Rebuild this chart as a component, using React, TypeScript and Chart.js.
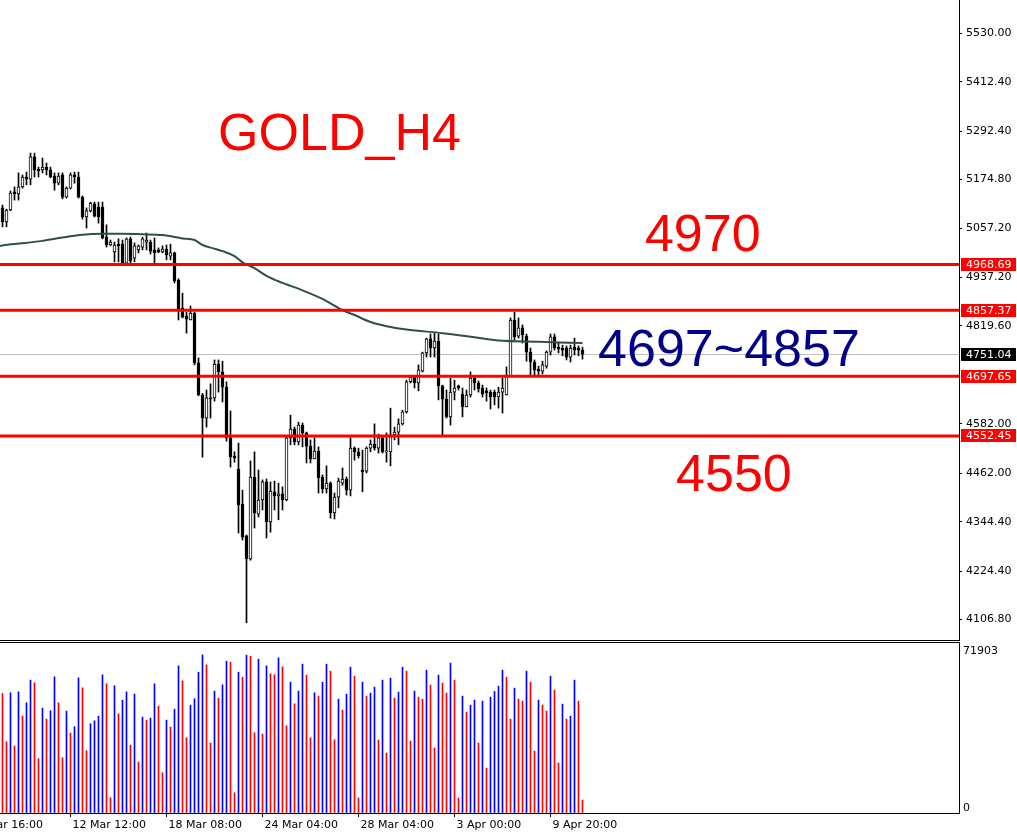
import React, { useEffect, useRef } from "react";
import { Chart, registerables } from "chart.js";
Chart.register(...registerables);

// ---------- data ----------
const OPEN = [5106,5072,5101,5145,5140,5157,5181,5176,5230,5200,5198,5205,5198,5183,5166,5186,5132,5154,5186,5181,5132,5084,5099,5116,5108,5108,5035,5016,4999,5018,5018,4972,5031,4984,5004,5011,5023,5023,5004,5004,4999,5006,4989,4997,4931,4863,4844,4834,4851,4730,4652,4596,4645,4645,4727,4708,4671,4548,4504,4472,4387,4310,4254,4453,4363,4397,4441,4344,4417,4407,4412,4397,4548,4569,4538,4579,4560,4528,4497,4516,4453,4424,4438,4366,4404,4438,4448,4421,4523,4514,4470,4467,4523,4533,4523,4548,4514,4514,4555,4562,4582,4611,4684,4696,4681,4710,4754,4788,4766,4783,4674,4642,4599,4659,4674,4654,4623,4652,4693,4681,4669,4662,4659,4659,4647,4659,4652,4698,4834,4795,4815,4795,4756,4732,4715,4710,4722,4756,4793,4768,4766,4766,4744,4768,4766,4761];
const HIGH = [5113,5103,5147,5157,5191,5186,5193,5239,5239,5205,5227,5215,5205,5191,5191,5191,5157,5191,5193,5193,5135,5106,5120,5120,5120,5120,5065,5028,5023,5031,5028,5033,5035,5021,5016,5035,5045,5028,5033,5009,5014,5016,5018,4999,4934,4899,4853,4868,4853,4742,4656,4664,4679,4737,4737,4734,4684,4613,4514,4535,4421,4312,4492,4514,4470,4446,4448,4441,4443,4438,4429,4550,4603,4574,4586,4584,4562,4543,4548,4526,4458,4480,4441,4414,4450,4475,4453,4548,4526,4523,4518,4526,4543,4582,4557,4550,4560,4620,4574,4594,4615,4688,4700,4700,4725,4756,4790,4800,4802,4800,4676,4664,4693,4688,4676,4669,4664,4708,4698,4686,4676,4669,4664,4664,4671,4693,4720,4839,4853,4839,4822,4800,4766,4737,4722,4734,4759,4800,4800,4778,4773,4771,4773,4790,4771,4768];
const LOW = [5060,5060,5099,5125,5125,5154,5162,5162,5181,5181,5191,5186,5179,5149,5162,5128,5130,5152,5166,5130,5079,5057,5096,5084,5069,5031,5011,5014,4975,4975,4970,4970,4972,4975,4997,5004,5004,4994,4972,4997,4997,4980,4980,4924,4834,4839,4802,4834,4725,4650,4501,4574,4596,4637,4659,4635,4540,4477,4489,4317,4300,4099,4251,4329,4356,4373,4305,4319,4373,4349,4373,4395,4531,4531,4531,4526,4487,4487,4497,4414,4414,4414,4353,4351,4378,4433,4409,4407,4494,4499,4417,4463,4514,4518,4511,4511,4489,4480,4543,4531,4579,4608,4681,4669,4662,4708,4744,4744,4744,4640,4555,4596,4579,4640,4664,4599,4623,4647,4664,4659,4647,4637,4618,4628,4620,4608,4652,4696,4785,4790,4778,4734,4700,4700,4700,4703,4717,4749,4761,4754,4747,4737,4732,4749,4747,4739];
const CLOSE = [5072,5101,5142,5140,5157,5181,5176,5230,5198,5196,5205,5198,5181,5166,5183,5132,5154,5186,5181,5132,5084,5099,5118,5086,5084,5033,5016,5023,5016,5014,4972,5031,4977,5014,5014,5031,5028,5001,4997,4999,5006,4992,4997,4929,4861,4841,4836,4851,4730,4652,4596,4645,4642,4727,4708,4671,4548,4502,4499,4385,4307,4254,4453,4366,4397,4441,4344,4419,4407,4412,4397,4548,4569,4538,4579,4560,4528,4497,4516,4451,4424,4438,4366,4404,4443,4448,4421,4523,4514,4504,4466,4523,4533,4523,4548,4514,4516,4555,4562,4582,4611,4684,4696,4681,4713,4754,4788,4766,4783,4674,4642,4599,4659,4669,4669,4623,4652,4693,4681,4667,4654,4657,4647,4647,4659,4669,4698,4834,4793,4815,4798,4756,4732,4713,4710,4725,4756,4793,4766,4764,4761,4744,4766,4761,4761,4751];
const VOLUME = [50260,29960,50540,28140,50960,40740,46340,55860,54740,22820,44100,39480,42980,57260,46340,23240,42840,33600,36260,56840,52640,26180,37520,38780,40740,58100,54320,6440,53480,41720,47460,50960,28560,49980,21420,40320,39060,39900,54320,44940,16940,39060,36120,43680,61880,55580,31640,45360,48020,59220,66500,62300,29400,51240,48300,53900,63840,63420,8540,59220,57120,66360,65940,33740,64680,33180,61880,58520,58100,65240,61460,36680,55020,45920,51240,62580,57960,31640,50540,49140,55020,62580,59640,30800,47880,43260,49980,61320,57540,6300,55020,49140,50400,52920,30660,55860,25200,56700,48300,50820,61320,59640,30240,51240,48720,47880,60060,53760,27300,57960,54600,50400,63000,55860,6300,49140,42420,45360,47460,29400,47040,18900,48720,51100,53340,60060,57120,39480,52500,47880,47040,59640,55020,26040,47460,45360,42840,57540,51660,21000,45780,39480,40740,55860,47040,5460];
const MA_INDEX = [-1,0,5,10,15,20,25,30,35,40,45,48,50,53,55,58,60,63,66,70,75,80,85,88,92,96,101,110,118,124,134,145];
const MA_VALUE = [5013,5015,5020,5026,5034,5041,5043,5043,5042,5040,5032,5028,5016,5007,5001,4989,4974,4960,4941,4924,4906,4885,4858,4846,4829,4819,4811,4802,4792,4784,4781,4778];
const PRICE_TICKS = [5530.0,5412.4,5292.4,5174.8,5057.2,4937.2,4819.6,4582.0,4462.0,4344.4,4224.4,4106.8];
const LEVELS = [4968.69,4857.37,4697.65,4552.45];
const BID = 4751.04;
const VOL_MAX = 71903;
const TIME_TICK_INDEX = [-7,17,41,65,89,113,137];
const TIME_TICK_LABELS = ["6 Mar 16:00","12 Mar 12:00","18 Mar 08:00","24 Mar 04:00","28 Mar 04:00","3 Apr 00:00","9 Apr 20:00"];
const NOTES = [
  { text: "GOLD_H4", x: 53.9, price: 5246.6, color: "#FF0000" },
  { text: "4970", x: 160.6, price: 5001.4, color: "#FF0000" },
  { text: "4697~4857", x: 148.9, price: 4722.3, color: "#00008B" },
  { text: "4550", x: 168.4, price: 4419.0, color: "#FF0000" },
];

// ---------- view ----------
const X_MIN = -0.625;
const X_MAX = 239.125;
const PRICE_TOP = 5610.6;
const PRICE_BOTTOM = 4054.9;
const AXIS_FONT = { family: "DejaVu Sans", size: 11 };

const idx = OPEN.map((_, i) => i);

const mainPlugin = {
  id: "mainDecor",
  beforeDatasetsDraw(chart: any) {
    const { ctx, chartArea, scales } = chart;
    const y = Math.round(scales.y.getPixelForValue(BID)) + 0.5;
    ctx.save();
    ctx.strokeStyle = "#C0C0C0";
    ctx.lineWidth = 1;
    ctx.beginPath();
    ctx.moveTo(chartArea.left, y);
    ctx.lineTo(chartArea.right, y);
    ctx.stroke();
    ctx.restore();
  },
  afterDatasetsDraw(chart: any) {
    const { ctx, chartArea, scales } = chart;
    ctx.save();
    ctx.strokeStyle = "#FF0000";
    ctx.lineWidth = 3;
    LEVELS.forEach((v) => {
      const y = scales.y.getPixelForValue(v);
      ctx.beginPath();
      ctx.moveTo(chartArea.left, y);
      ctx.lineTo(chartArea.right, y);
      ctx.stroke();
    });
    ctx.font = '52px "Liberation Sans"';
    ctx.textBaseline = "alphabetic";
    ctx.textAlign = "left";
    NOTES.forEach((n) => {
      ctx.fillStyle = n.color;
      ctx.fillText(n.text, scales.x.getPixelForValue(n.x), scales.y.getPixelForValue(n.price));
    });
    ctx.restore();
  },
  afterDraw(chart: any) {
    const { ctx, chartArea, scales } = chart;
    ctx.save();
    ctx.strokeStyle = "#000";
    ctx.lineWidth = 1;
    ctx.beginPath();
    ctx.moveTo(0, chartArea.bottom - 0.5);
    ctx.lineTo(chartArea.right + 1, chartArea.bottom - 0.5);
    ctx.stroke();
    const boxes = [...LEVELS.map((v) => ({ v, bg: "#FF0000" })), { v: BID, bg: "#000000" }];
    ctx.font = '11px "DejaVu Sans"';
    ctx.textBaseline = "middle";
    ctx.textAlign = "left";
    boxes.forEach((b) => {
      const y = scales.y.getPixelForValue(b.v);
      const top = Math.round(y - 6.5);
      ctx.fillStyle = b.bg;
      ctx.fillRect(chartArea.right + 2, top, 55, 13);
      ctx.fillStyle = "#FFFFFF";
      ctx.fillText(b.v.toFixed(2), chartArea.right + 7, top + 7);
    });
    ctx.restore();
  },
};

const volPlugin = {
  id: "volDecor",
  afterDraw(chart: any) {
    const { ctx, chartArea } = chart;
    ctx.save();
    ctx.strokeStyle = "#000";
    ctx.lineWidth = 1;
    ctx.beginPath();
    ctx.moveTo(0, chartArea.top + 0.5);
    ctx.lineTo(chartArea.right + 1, chartArea.top + 0.5);
    ctx.stroke();
    ctx.fillStyle = "#000";
    ctx.font = '11px "DejaVu Sans"';
    ctx.textBaseline = "middle";
    ctx.textAlign = "left";
    ctx.fillText(String(VOL_MAX), chartArea.right + 4, chartArea.top + 9);
    ctx.fillText("0", chartArea.right + 4, chartArea.bottom - 5);
    ctx.restore();
  },
};

export default function App() {
  const mainRef = useRef<HTMLCanvasElement | null>(null);
  const volRef = useRef<HTMLCanvasElement | null>(null);

  useEffect(() => {
    const main = new Chart(mainRef.current as HTMLCanvasElement, {
      type: "bar",
      data: {
        datasets: [
          {
            type: "line",
            data: MA_INDEX.map((x, k) => ({ x, y: MA_VALUE[k] })),
            borderColor: "#2F4F4F",
            borderWidth: 2,
            pointRadius: 0,
            cubicInterpolationMode: "monotone",
            order: 1,
          } as any,
          {
            data: idx.map((i) => ({ x: i, y: [Math.min(OPEN[i], CLOSE[i]), Math.max(OPEN[i], CLOSE[i])] })),
            backgroundColor: idx.map((i) => (CLOSE[i] < OPEN[i] ? "#000000" : "#FFFFFF")),
            borderColor: "#000000",
            borderWidth: 1,
            borderSkipped: false,
            barThickness: 3,
            minBarLength: 1,
            grouped: false,
            order: 2,
          } as any,
          {
            data: idx.map((i) => ({ x: i, y: [LOW[i], HIGH[i]] })),
            backgroundColor: "#000000",
            borderWidth: 0,
            barThickness: 1,
            grouped: false,
            order: 3,
          } as any,
        ],
      },
      options: {
        animation: false,
        responsive: false,
        maintainAspectRatio: false,
        layout: { padding: 0 },
        plugins: { legend: { display: false }, tooltip: { enabled: false } },
        scales: {
          x: {
            type: "linear",
            display: false,
            min: X_MIN,
            max: X_MAX,
            offset: false,
            bounds: "data",
            grid: { offset: false },
          },
          y: {
            type: "linear",
            position: "right",
            min: PRICE_BOTTOM,
            max: PRICE_TOP,
            beginAtZero: false,
            bounds: "data",
            afterBuildTicks: (s: any) => {
              s.ticks = PRICE_TICKS.map((v) => ({ value: v }));
            },
            afterFit: (s: any) => {
              s.width = 58;
              s.paddingTop = 0;
              s.paddingBottom = 0;
            },
            ticks: {
              autoSkip: false,
              padding: 4,
              color: "#000",
              font: AXIS_FONT,
              callback: (v: any) => Number(v).toFixed(2),
            },
            grid: { drawOnChartArea: false, drawTicks: true, tickLength: 3, color: "#000" },
            border: { display: true, color: "#000", width: 1 },
          },
        },
      } as any,
      plugins: [mainPlugin],
    });

    const vol = new Chart(volRef.current as HTMLCanvasElement, {
      type: "bar",
      data: {
        datasets: [
          {
            data: idx.map((i) => ({ x: i, y: VOLUME[i] })),
            backgroundColor: idx.map((i) => (i > 0 && VOLUME[i] >= VOLUME[i - 1] ? "#0000FF" : "#FF0000")),
            borderWidth: 0,
            barThickness: 1,
            grouped: false,
          } as any,
        ],
      },
      options: {
        animation: false,
        responsive: false,
        maintainAspectRatio: false,
        layout: { padding: { top: 1, left: 0, right: 0, bottom: 0 } },
        plugins: { legend: { display: false }, tooltip: { enabled: false } },
        scales: {
          x: {
            type: "linear",
            min: X_MIN,
            max: X_MAX,
            offset: false,
            bounds: "data",
            afterBuildTicks: (s: any) => {
              s.ticks = TIME_TICK_INDEX.map((v) => ({ value: v }));
            },
            afterFit: (s: any) => {
              s.height = 19;
              s.paddingLeft = 0;
              s.paddingRight = 0;
            },
            ticks: {
              autoSkip: false,
              maxRotation: 0,
              minRotation: 0,
              align: "start",
              labelOffset: 2,
              padding: 2,
              color: "#000",
              font: AXIS_FONT,
              callback: (v: any) => {
                const k = TIME_TICK_INDEX.indexOf(Number(v));
                return k >= 0 ? TIME_TICK_LABELS[k] : "";
              },
            },
            grid: { drawOnChartArea: false, drawTicks: true, tickLength: 4, color: "#000", offset: false },
            border: { display: true, color: "#000", width: 1, dash: [3, 2] },
          },
          y: {
            type: "linear",
            position: "right",
            min: 0,
            max: VOL_MAX,
            beginAtZero: true,
            afterFit: (s: any) => {
              s.width = 58;
              s.paddingTop = 0;
              s.paddingBottom = 0;
            },
            ticks: { display: false },
            grid: { drawOnChartArea: false, drawTicks: false },
            border: { display: true, color: "#000", width: 1 },
          },
        },
      } as any,
      plugins: [volPlugin],
    });

    return () => {
      main.destroy();
      vol.destroy();
    };
  }, []);

  return (
    <div
      style={{
        position: "fixed",
        left: 0,
        top: 0,
        width: 1017,
        height: 832,
        background: "#FFFFFF",
        overflow: "hidden",
      }}
    >
      <canvas
        ref={mainRef}
        width={1017}
        height={641}
        style={{ position: "absolute", left: 0, top: 0, width: 1017, height: 641, display: "block" }}
      />
      <canvas
        ref={volRef}
        width={1017}
        height={191}
        style={{ position: "absolute", left: 0, top: 641, width: 1017, height: 191, display: "block" }}
      />
    </div>
  );
}
